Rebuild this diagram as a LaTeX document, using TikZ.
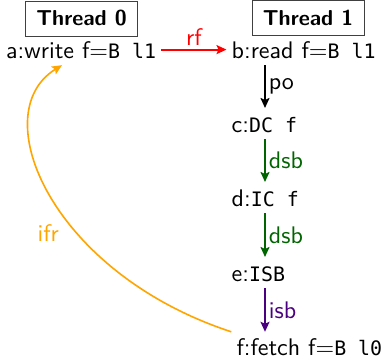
\documentclass[tikz,border=0pt]{standalone}
\usepackage{fontspec}
\setsansfont{lmsans10-regular.otf}[BoldFont=lmsans10-bold.otf]
\setmonofont{DejaVu Sans Mono}[Scale=0.83]
\usetikzlibrary{arrows.meta,calc}
\definecolor{dsbc}{RGB}{0,100,0}
\definecolor{isbc}{RGB}{75,0,130}
\definecolor{ifrc}{RGB}{255,165,0}
\begin{document}
\begin{tikzpicture}[x=1bp,y=-1bp,
  every node/.style={font=\sffamily\fontsize{24bp}{29bp}\selectfont},
  ev/.style={inner xsep=5bp, inner ysep=7bp, anchor=base west, text height=16.8bp, text depth=0bp},
  thr/.style={draw=black!75, line width=0.8bp, font=\sffamily\bfseries\fontsize{21.6bp}{26bp}\selectfont,
    minimum width=112bp, minimum height=35bp, inner sep=0pt},
  rel/.style={line width=1.8bp, -{Stealth[length=10bp,width=9bp,inset=2bp]}},
  lab/.style={inner sep=3bp, anchor=west}]
\useasboundingbox (0,0) rectangle (385,362);
\node[thr] (t0) at (81.5,18.5) {Thread 0};
\node[thr] (t1) at (308,18) {Thread 1};
\node[ev] (a) at (1,58) {a:write f=\texttt{B l1}};
\node[ev] (b) at (226.5,58) {b:read f=\texttt{B l1}};
\node[ev] (c) at (226.5,132) {c:\texttt{DC f}};
\node[ev] (d) at (226.5,206) {d:\texttt{IC f}};
\node[ev] (e) at (226.5,281) {e:\texttt{ISB}};
\node[ev] (f) at (231.3,355.8) {f:fetch f=\texttt{B l0}};
\draw[rel, red] (a) -- node[above, inner sep=3bp] {rf} (b);
\draw[rel, black] ($(b.south west)+(38.5,0)$) -- node[lab] {po} ($(c.north west)+(38.5,0)$);
\draw[rel, dsbc] ($(c.south west)+(38.5,0)$) -- node[lab] {dsb} ($(d.north west)+(38.5,0)$);
\draw[rel, dsbc] ($(d.south west)+(38.5,0)$) -- node[lab] {dsb} ($(e.north west)+(38.5,0)$);
\draw[rel, isbc] ($(e.south west)+(38.5,0)$) -- node[lab] {isb} ($(f.north west)+(33.7,0)$);
\draw[rel, ifrc, line width=1.6bp] (f.north west) .. controls +(-180,-59) and +(-78,48) .. ($(a.south west)+(61,0)$)
  node[pos=0.38, left=17bp, inner sep=0pt] {ifr};
\end{tikzpicture}
\end{document}
